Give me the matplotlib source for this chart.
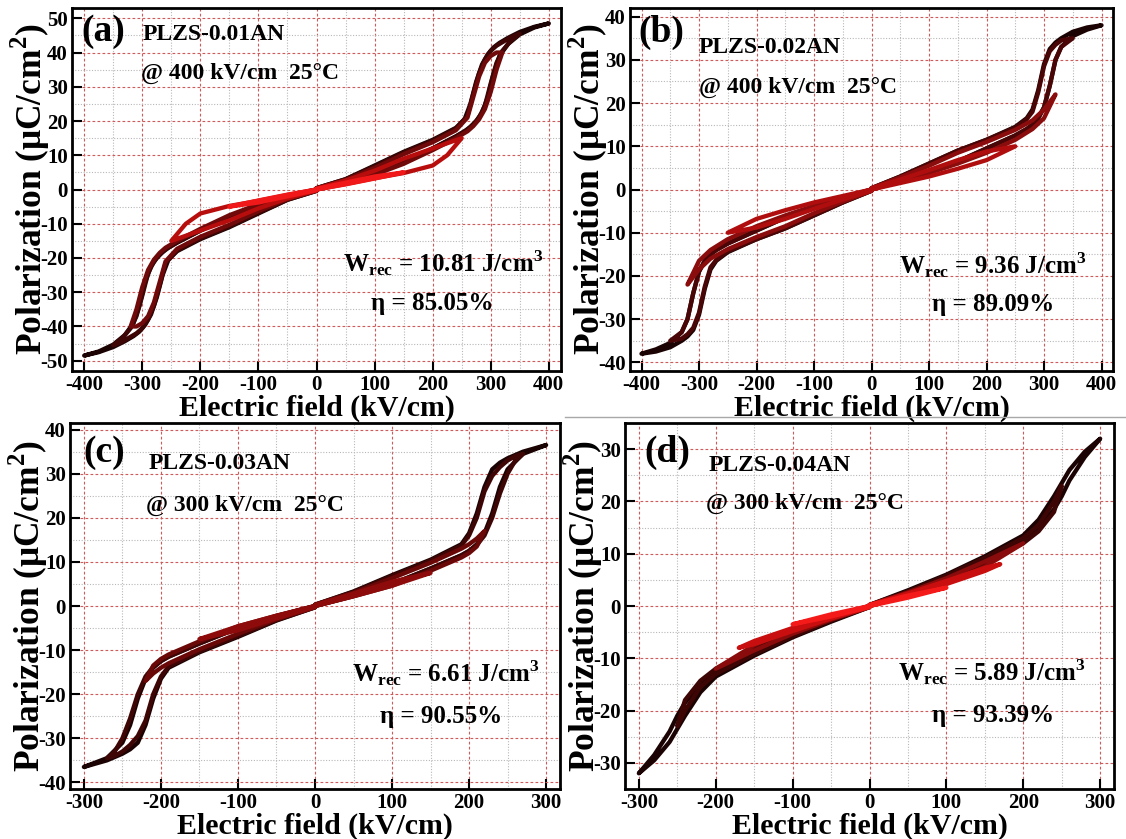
import matplotlib
matplotlib.use("Agg")
import matplotlib.pyplot as plt
from matplotlib.ticker import MultipleLocator
from matplotlib.lines import Line2D

plt.rcParams['font.family'] = ['Liberation Serif', 'DejaVu Serif']
plt.rcParams['font.weight'] = 'bold'
plt.rcParams['mathtext.fontset'] = 'custom'
plt.rcParams['mathtext.rm'] = 'Liberation Serif:bold'
plt.rcParams['mathtext.bf'] = 'Liberation Serif:bold'
plt.rcParams['axes.unicode_minus'] = False

# ---- panel (a): PLZS-0.01AN, loops up to 400 kV/cm (positive half, rise / fall branch)
a_emax = [400, 350, 320, 250, 150]
a_E = [
    [0, 50, 100, 150, 200, 240, 255, 265, 275, 285, 295, 305, 315, 330, 350, 375, 400],
    [0, 50, 100, 150, 200, 240, 260, 270, 280, 290, 300, 310, 320, 335, 350],
    [0, 50, 100, 150, 200, 240, 260, 270, 280, 290, 300, 310, 320],
    [0, 50, 100, 150, 200, 225, 250],
    [0, 50, 100, 150],
]
a_rise = [
    [0, 2, 4.5, 8, 12, 15.5, 17, 18.3, 20, 22.5, 27, 34, 39, 42.5, 45.3, 47.3, 48.5],
    [0, 2, 4.5, 8, 12, 15.5, 17.5, 19, 21, 24.5, 31, 37, 40.5, 43.5, 45.5],
    [0, 2, 4.3, 7.5, 11.5, 15, 17, 18.5, 20.5, 23.5, 28.5, 35, 40],
    [0, 1.6, 3.3, 4.8, 7, 10, 15],
    [0, 1.5, 3.2, 5],
]
a_fall = [
    [0.4, 3, 7, 11, 14.5, 18, 20.5, 25, 31.5, 36.5, 39.5, 41.5, 42.8, 44.3, 46, 47.5, 48.5],
    [0.4, 3, 6.8, 10.8, 14.3, 17.8, 21.5, 28, 34, 38, 40.5, 42, 43, 44.5, 45.5],
    [0.3, 2.8, 6.3, 10.3, 13.8, 17.3, 21, 27, 33, 37, 39, 40, 40],
    [0.3, 2.6, 5.5, 9, 12, 13.5, 15],
    [0.2, 2, 3.8, 5],
]

# ---- panel (b): PLZS-0.02AN
b_emax = [400, 350, 320, 250]
b_E = [
    [0, 50, 100, 150, 200, 250, 270, 280, 290, 300, 310, 320, 330, 350, 375, 400],
    [0, 50, 100, 150, 200, 250, 270, 280, 290, 300, 310, 320, 330, 350],
    [0, 50, 100, 150, 200, 250, 280, 300, 320],
    [0, 50, 100, 150, 200, 250],
]
b_rise = [
    [0, 2, 4, 6.5, 9.5, 12.5, 14, 15, 16.5, 19, 24, 30, 33, 35.5, 37, 38],
    [0, 2, 4, 6.5, 9.5, 12.5, 14, 15, 16.5, 19, 24, 30, 33, 35],
    [0, 1.8, 3.8, 6, 8.5, 11.5, 14, 16.5, 22],
    [0, 1.5, 3, 4.8, 6.8, 10],
]
b_fall = [
    [0.3, 3, 6, 9, 11.5, 14.5, 16.5, 18.5, 23, 29, 32.5, 34, 35, 36.5, 37.5, 38],
    [0.3, 3, 6, 9, 11.5, 14.3, 16.3, 18, 22.5, 28.5, 32, 33.5, 34.5, 35],
    [0.3, 2.8, 5.5, 8.5, 11, 13.8, 16, 18.5, 22],
    [0.3, 2.3, 4.5, 6.8, 8.8, 10],
]

# ---- panel (c): PLZS-0.03AN
c_emax = [300, 270, 220, 150]
c_E = [
    [0, 50, 100, 150, 190, 200, 210, 220, 230, 240, 250, 270, 300],
    [0, 50, 100, 150, 190, 200, 210, 220, 230, 240, 250, 260, 270],
    [0, 50, 100, 150, 190, 200, 210, 220],
    [0, 50, 100, 150],
]
c_rise = [
    [0, 2.3, 5, 8.5, 11.5, 12.5, 14, 16.5, 21, 27, 31, 34.5, 36.5],
    [0, 2.3, 5, 8.5, 11.5, 12.5, 13.8, 16, 20, 25.5, 30, 33, 34.5],
    [0, 2.2, 4.6, 8, 11, 12, 13.5, 17],
    [0, 2.2, 4.6, 7.5],
]
c_fall = [
    [0.3, 3.3, 7, 10.5, 14, 16.5, 21, 27, 31, 32.5, 33.5, 35, 36.5],
    [0.3, 3.2, 6.8, 10.3, 13.7, 16, 20, 26, 29.5, 31.5, 33, 34, 34.5],
    [0.3, 3, 6.3, 9.8, 13, 14, 15.3, 17],
    [0.2, 2.8, 5.5, 7.5],
]

# ---- panel (d): PLZS-0.04AN
d_emax = [300, 250, 200, 170, 100]
d_E = [
    [0, 50, 100, 150, 200, 220, 240, 250, 260, 280, 300],
    [0, 50, 100, 150, 200, 220, 240, 250],
    [0, 50, 100, 150, 200],
    [0, 50, 100, 150, 170],
    [0, 50, 100],
]
d_rise = [
    [0, 2.3, 5, 8.5, 12.5, 15, 18.5, 21, 24, 28.5, 32],
    [0, 2.2, 4.8, 8.2, 12, 14.3, 18, 23],
    [0, 2, 4.3, 7.5, 12],
    [0, 2, 4.2, 6.7, 8],
    [0, 1.6, 3.5],
]
d_fall = [
    [0.2, 3, 6, 9.5, 13.5, 16.5, 21, 23.5, 26, 29.5, 32],
    [0.2, 2.8, 5.8, 9.2, 13, 15.5, 20, 23],
    [0.2, 2.6, 5.3, 8.5, 12],
    [0.2, 2.4, 4.8, 7.3, 8],
    [0.2, 2, 3.5],
]

panel_tags = ['(a)', '(b)', '(c)', '(d)']
samples = ['PLZS-0.01AN', 'PLZS-0.02AN', 'PLZS-0.03AN', 'PLZS-0.04AN']
conditions = ['@ 400 kV/cm  25°C', '@ 400 kV/cm  25°C', '@ 300 kV/cm  25°C', '@ 300 kV/cm  25°C']
w_rec = ['10.81', '9.36', '6.61', '5.89']
eta = ['85.05', '89.09', '90.55', '93.39']

# layout (pixels on a 1126x839 canvas): left, bottom, width, height
W, H = 1126, 839
boxes = [(72, 371, 489, 363), (630, 371, 483, 363), (70, 789, 490, 366), (625, 789, 489, 366)]
xlims = [421, 420, 318, 318]
ylims = [53, 42, 41.5, 35]
xmaj = [400, 400, 300, 300]
ymaj = [50, 40, 40, 30]
tag_pos = [(0.02, 0.934), (0.017, 0.934), (0.027, 0.92), (0.04, 0.92)]
sam_pos = [(0.145, 0.926), (0.143, 0.89), (0.16, 0.89), (0.17, 0.885)]
con_pos = [(0.141, 0.821), (0.143, 0.78), (0.156, 0.776), (0.166, 0.78)]
w_pos = [(0.554, 0.298), (0.557, 0.292), (0.575, 0.317), (0.558, 0.32)]
eta_pos = [(0.611, 0.187), (0.625, 0.182), (0.633, 0.197), (0.628, 0.2)]

panel_colors = [
    ['#1c0303', '#3e0505', '#700909', '#b80d0d', '#f01818'],
    ['#1c0303', '#4a0606', '#8a0c0c', '#b00e0e'],
    ['#1c0303', '#3e0505', '#6a0808', '#8e0b0b'],
    ['#1c0303', '#3e0505', '#8a0b0b', '#c80e0e', '#f51a1a'],
]

data = [(a_E, a_rise, a_fall), (b_E, b_rise, b_fall), (c_E, c_rise, c_fall), (d_E, d_rise, d_fall)]

fig = plt.figure(figsize=(W / 100, H / 100), dpi=100)

for i in range(4):
    l, b, w, h = boxes[i]
    ax = fig.add_axes([l / W, 1 - b / H, w / W, h / H])
    Es, rises, falls = data[i]
    for E, pr, pf, col in zip(Es, rises, falls, panel_colors[i]):
        x = E + E[::-1] + [-e for e in E] + [-e for e in E[::-1]]
        y = pr + pf[::-1] + [-p for p in pr] + [-p for p in pf[::-1]]
        ax.plot(x, y, color=col, lw=3.1, solid_joinstyle='round', solid_capstyle='round', zorder=3)

    ax.set_xlim(-xlims[i], xlims[i])
    ax.set_ylim(-ylims[i], ylims[i])
    ax.xaxis.set_minor_locator(MultipleLocator(50))
    ax.yaxis.set_minor_locator(MultipleLocator(5))
    ax.set_xticks(range(-xmaj[i], xmaj[i] + 1, 100))
    ax.set_yticks(range(-ymaj[i], ymaj[i] + 1, 10))
    ax.grid(which='major', color='#cf5a5a', ls=(0, (2.5, 2)), lw=0.8, zorder=1)
    ax.grid(which='minor', color='#b8b8b8', ls=(0, (1, 1.5)), lw=0.8, zorder=1)
    ax.tick_params(which='major', direction='in', length=7, width=1.5, pad=3, labelsize=15)
    ax.tick_params(which='minor', direction='in', length=0)
    for sp in ax.spines.values():
        sp.set_linewidth(2)
    for lab in ax.get_xticklabels() + ax.get_yticklabels():
        lab.set_fontweight('bold')

    ax.set_xlabel('Electric field (kV/cm)', fontsize=21.5, fontweight='bold')
    ax.xaxis.set_label_coords(0.5, -37 / h)
    ax.xaxis.label.set_va('center')
    ax.set_ylabel('Polarization (μC/cm$^2$)', fontsize=25.5, fontweight='bold')
    ax.yaxis.set_label_coords(-42 / w, 0.5)
    ax.yaxis.label.set_va('center')

    ax.text(*tag_pos[i], panel_tags[i], transform=ax.transAxes, fontsize=27,
            fontweight='bold', va='center', ha='left')
    ax.text(*sam_pos[i], samples[i], transform=ax.transAxes, fontsize=17,
            fontweight='bold', va='center', ha='left')
    ax.text(*con_pos[i], conditions[i], transform=ax.transAxes, fontsize=17,
            fontweight='bold', va='center', ha='left')
    ax.text(*w_pos[i], 'W$_{\\mathrm{rec}}$ = ' + w_rec[i] + ' J/cm$^3$', transform=ax.transAxes,
            fontsize=18, fontweight='bold', va='center', ha='left')
    ax.text(*eta_pos[i], 'η = ' + eta[i] + '%', transform=ax.transAxes, fontsize=18,
            fontweight='bold', va='center', ha='left')

# thin grey separator under panel (b)
fig.add_artist(Line2D([565 / W, 1], [1 - 417 / H, 1 - 417 / H], color='#a8a8a8', lw=1))

plt.savefig('out.png', dpi=100)
